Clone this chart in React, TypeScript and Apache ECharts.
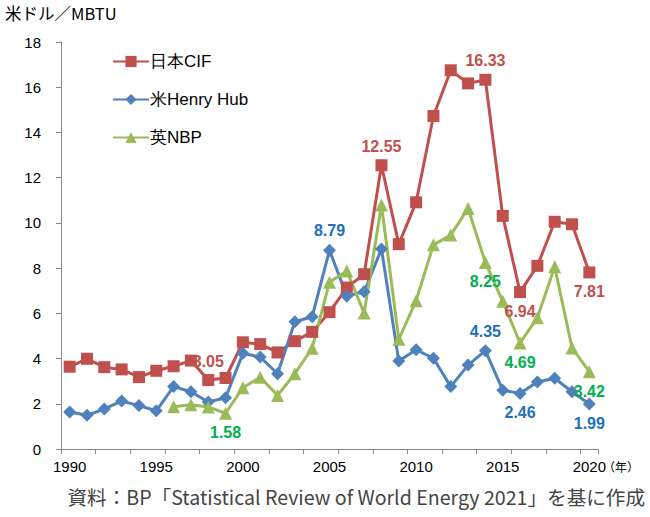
import React, { useEffect, useRef } from "react";
import * as echarts from "echarts";

const years = Array.from({ length: 31 }, (_, i) => String(1990 + i));
const japanCIF = [3.64, 3.99, 3.62, 3.52, 3.18, 3.46, 3.66, 3.91, 3.05, 3.14, 4.72, 4.64, 4.27, 4.77, 5.18, 6.05, 7.14, 7.73, 12.55, 9.06, 10.91, 14.73, 16.75, 16.17, 16.33, 10.31, 6.94, 8.10, 10.05, 9.94, 7.81];
const henryHub = [1.64, 1.49, 1.77, 2.12, 1.92, 1.69, 2.76, 2.53, 2.08, 2.27, 4.23, 4.07, 3.33, 5.63, 5.85, 8.79, 6.76, 6.95, 8.85, 3.89, 4.39, 4.01, 2.76, 3.71, 4.35, 2.60, 2.46, 2.96, 3.13, 2.53, 1.99];
const nbp = [null, null, null, null, null, null, 1.87, 1.96, 1.86, 1.58, 2.71, 3.17, 2.37, 3.33, 4.46, 7.38, 7.87, 6.01, 10.79, 4.85, 6.56, 9.03, 9.46, 10.64, 8.25, 6.53, 4.69, 5.80, 8.06, 4.47, 3.42];
const seriesNames = ["日本CIF", "米Henry Hub", "英NBP"];

// labelled points: [index, position, offset]
const redLabels: [number, string, number[]][] = [[8, "top", [14, -1]], [18, "top", [0, 0]], [24, "top", [2, 0]], [26, "bottom", [0, 0]], [30, "bottom", [0, 0]]];
const blueLabels: [number, string, number[]][] = [[15, "top", [0, 0]], [24, "top", [0, 0]], [26, "bottom", [0, 0]], [30, "bottom", [0, 0]]];
const greenLabels: [number, string, number[]][] = [[9, "bottom", [0, 0]], [24, "bottom", [-11, -8]], [26, "bottom", [0, 0]], [30, "bottom", [0, -2]]];

const FONT = "'Liberation Sans', Arial, sans-serif";
const JP = "'Noto Sans CJK JP', sans-serif";

function buildData(vals: (number | null)[], labels: [number, string, number[]][], color: string) {
  return vals.map((v, i) => {
    const l = labels.find((x) => x[0] === i);
    if (!l || v === null) return v;
    return {
      value: v,
      label: {
        show: true,
        position: l[1],
        offset: l[2],
        color,
        fontSize: 16,
        fontWeight: "bold",
        fontFamily: FONT,
        formatter: v.toFixed(2),
      },
    };
  });
}

export default function App() {
  const ref = useRef<HTMLDivElement>(null);
  useEffect(() => {
    const chart = echarts.init(ref.current!, null, { renderer: "svg" });
    const mk = (name: string, data: any[], color: string, symbol: string, size: number) => ({
      name,
      type: "line",
      data,
      symbol,
      symbolSize: size,
      showSymbol: true,
      showAllSymbol: true,
      itemStyle: { color },
      lineStyle: { color, width: 3 },
      connectNulls: false,
      label: { show: false },
      labelLayout: { hideOverlap: false },
    });
    chart.setOption({
      animation: false,
      textStyle: { fontFamily: FONT },
      grid: { left: 61, right: 52, top: 42, bottom: 68 },
      legend: {
        orient: "vertical",
        left: 107,
        top: 48,
        itemGap: 21,
        itemWidth: 36,
        itemHeight: 14,
        textStyle: { fontSize: 17, color: "#000", fontFamily: FONT, padding: [0, 0, 0, -4] },
        data: seriesNames,
      },
      xAxis: {
        type: "category",
        data: years,
        boundaryGap: true,
        axisLine: { lineStyle: { color: "#888", width: 1 } },
        axisTick: { show: true, interval: 1, length: 5, lineStyle: { color: "#888" } },
        axisLabel: { interval: 4, color: "#000", fontSize: 15, fontFamily: FONT, margin: 10 },
      },
      yAxis: {
        type: "value",
        min: 0,
        max: 18,
        interval: 2,
        splitLine: { show: false },
        axisLine: { show: true, lineStyle: { color: "#888", width: 1 } },
        axisTick: { show: true, length: 5, lineStyle: { color: "#888" } },
        axisLabel: { color: "#000", fontSize: 15, fontFamily: FONT, margin: 20 },
      },
      graphic: [
        { type: "text", left: 5, top: 5, style: { text: "米ドル／MBTU", fontSize: 16.5, fill: "#000", fontFamily: JP } },
        { type: "text", left: 603, top: 460, style: { text: "（年）", fontSize: 12, fill: "#000", fontFamily: JP } },
        { type: "text", right: 5, top: 487, style: { text: "資料：BP「Statistical Review of World Energy 2021」を基に作成", fontSize: 19.6, fill: "#444", fontFamily: JP } },
      ],
      series: [
        mk(seriesNames[0], buildData(japanCIF, redLabels, "#C0504D"), "#C0504D", "rect", 12),
        mk(seriesNames[1], buildData(henryHub, blueLabels, "#1F6FBF"), "#4F81BD", "diamond", 13),
        mk(seriesNames[2], buildData(nbp, greenLabels, "#00B050"), "#9BBB59", "triangle", 13),
      ],
    });
    return () => chart.dispose();
  }, []);
  return <div ref={ref} style={{ width: 650, height: 517, position: "absolute", left: 0, top: 0 }} />;
}
